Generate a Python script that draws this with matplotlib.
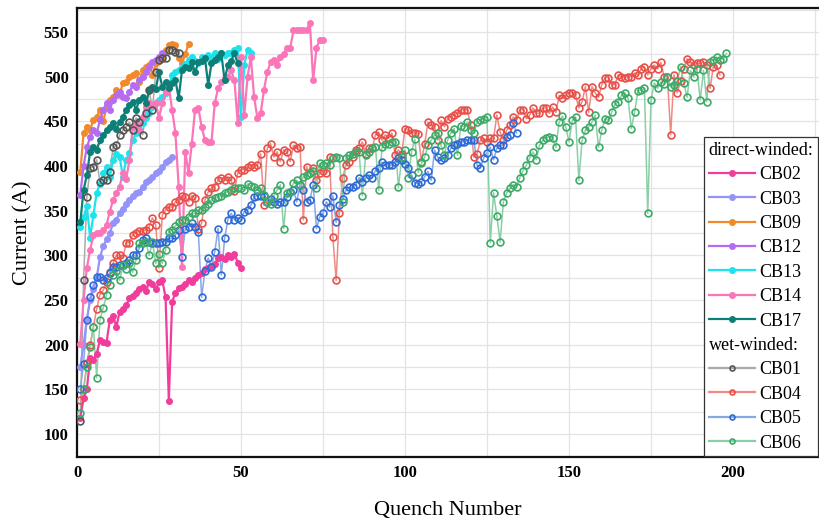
import numpy as np
import matplotlib
matplotlib.use("Agg")
import matplotlib.pyplot as plt
from matplotlib.lines import Line2D
from matplotlib.ticker import MultipleLocator

plt.rcParams['font.family'] = ['Liberation Serif', 'DejaVu Serif']

# ---- data: current (A) per quench, quench number = 1..N ----
cb02 = [118, 140, 150, 185, 183, 190, 205, 203, 202, 228, 232, 220, 237, 240, 244, 252, 255,
        258, 262, 265, 260, 270, 268, 262, 270, 272, 253, 137, 248, 258, 263, 265, 268, 272,
        270, 275, 278, 280, 285, 286, 288, 290, 297, 298, 296, 300, 298, 302, 292, 286]
cb03 = [175, 200, 228, 250, 262, 275, 298, 310, 318, 325, 336, 340, 347, 352, 358, 362, 366,
        370, 371, 376, 382, 384, 388, 392, 395, 399, 404, 407, 410]
cb09 = [393, 437, 444, 440, 452, 455, 463, 450, 466, 474, 477, 485, 480, 493, 494, 500, 502,
        504, 494, 508, 511, 513, 502, 515, 518, 520, 530, 535, 537, 536, 521, 515, 525, 537]
cb12 = [368, 400, 421, 432, 440, 437, 451, 463, 471, 463, 474, 480, 483, 477, 476, 483, 491,
        488, 496, 500, 505, 511, 516, 519, 522, 527]
cb13 = [332, 343, 355, 320, 345, 370, 380, 392, 399, 388, 407, 414, 410, 388, 407, 415, 429,
        437, 442, 448, 454, 459, 466, 470, 474, 477, 482, 489, 502, 505, 507, 511, 514, 519,
        522, 518, 515, 522, 520, 524, 522, 526, 520, 526, 524, 526, 526, 530, 532, 455, 513,
        530, 526]
cb14 = [201, 250, 286, 306, 323, 325, 325, 328, 334, 349, 362, 370, 377, 392, 385, 407, 444,
        446, 440, 455, 466, 470, 468, 470, 454, 470, 483, 489, 463, 437, 377, 287, 416, 392,
        425, 463, 465, 444, 429, 427, 427, 470, 487, 494, 498, 500, 507, 496, 448, 522, 457,
        500, 522, 477, 454, 459, 485, 505, 516, 519, 513, 522, 525, 532, 532, 552, 552, 552,
        552, 552, 560, 496, 532, 541, 541]
cb17 = [337, 373, 390, 416, 421, 418, 429, 435, 440, 444, 448, 442, 449, 455, 463, 468, 472,
        463, 474, 477, 470, 485, 489, 486, 505, 489, 494, 487, 493, 496, 476, 507, 511, 510,
        516, 505, 516, 518, 521, 491, 515, 519, 522, 526, 496, 513, 518, 526, 515]
cb01 = [115, 272, 365, 398, 399, 407, 382, 384, 384, 393, 421, 423, 435, 440, 444, 449, 440,
        454, 449, 435, 459, 485, 463, 505, 519, 521, 521, 530, 530, 528, 526]
cb04 = [138, 150, 179, 200, 220, 240, 256, 261, 270, 281, 291, 300, 300, 297, 314, 314, 323,
        325, 327, 327, 328, 332, 342, 334, 286, 345, 351, 354, 354, 360, 362, 367, 365, 360,
        367, 364, 330, 336, 362, 371, 375, 377, 384, 387, 384, 388, 384, 372, 392, 396, 396,
        399, 401, 399, 401, 414, 356, 420, 425, 410, 416, 405, 418, 416, 405, 423, 420, 421,
        340, 399, 392, 398, 384, 392, 395, 392, 410, 321, 272, 347, 387, 401, 404, 410, 418,
        420, 427, 414, 420, 420, 435, 438, 429, 435, 431, 437, 412, 418, 414, 442, 440, 437,
        437, 436, 405, 425, 449, 446, 444, 429, 451, 444, 453, 455, 457, 459, 463, 463, 463,
        446, 410, 414, 429, 431, 427, 431, 431, 457, 438, 429, 440, 446, 455, 451, 463, 463,
        453, 457, 465, 459, 459, 465, 465, 459, 466, 460, 479, 476, 479, 482, 482, 479, 465,
        472, 489, 460, 489, 482, 477, 491, 499, 499, 491, 491, 502, 500, 499, 500, 500, 504,
        502, 509, 511, 502, 509, 513, 509, 516, 500, 500, 435, 502, 482, 495, 509, 520, 516,
        513, 515, 515, 516, 513, 487, 511, 513, 502]
cb05 = [150, 178, 228, 253, 267, 276, 276, 272, 275, 280, 287, 287, 289, 289, 291, 295, 300,
        300, 308, 317, 319, 315, 314, 314, 314, 315, 315, 319, 319, 323, 328, 298, 330, 332,
        336, 332, 326, 253, 283, 297, 287, 304, 330, 278, 319, 340, 347, 340, 342, 340, 349,
        351, 356, 365, 367, 367, 367, 360, 363, 360, 358, 360, 360, 365, 371, 373, 360, 379,
        373, 360, 362, 379, 330, 343, 347, 360, 354, 367, 337, 356, 363, 373, 376, 376, 379,
        387, 382, 387, 390, 387, 395, 398, 404, 401, 401, 401, 405, 409, 407, 402, 398, 390,
        381, 380, 382, 388, 394, 384, 418, 410, 407, 409, 412, 420, 423, 425, 427, 427, 429,
        429, 429, 401, 398, 409, 415, 421, 407, 420, 423, 423, 433, 435, 448, 437]
cb06 = [123, 150, 175, 197, 220, 163, 228, 241, 256, 267, 278, 283, 272, 289, 285, 292, 281,
        295, 314, 314, 315, 300, 315, 291, 302, 291, 306, 326, 328, 333, 337, 340, 340, 343,
        347, 347, 351, 351, 354, 358, 362, 364, 365, 367, 370, 371, 373, 375, 375, 375, 373,
        380, 378, 376, 373, 375, 368, 360, 358, 367, 373, 379, 330, 370, 371, 381, 384, 379,
        388, 390, 392, 395, 375, 403, 401, 403, 401, 409, 410, 409, 360, 409, 412, 414, 416,
        416, 367, 412, 416, 420, 421, 373, 421, 425, 425, 427, 427, 376, 410, 418, 387, 416,
        430, 393, 403, 410, 423, 429, 435, 437, 423, 412, 429, 437, 442, 412, 445, 444, 449,
        440, 437, 449, 451, 453, 455, 314, 370, 344, 315, 360, 370, 375, 379, 377, 387, 395,
        401, 409, 416, 407, 423, 429, 431, 433, 431, 421, 449, 456, 444, 427, 451, 455, 384,
        429, 440, 444, 449, 457, 421, 440, 453, 451, 460, 469, 472, 479, 482, 476, 442, 460,
        484, 485, 487, 347, 474, 493, 487, 494, 492, 500, 489, 491, 495, 511, 493, 477, 507,
        500, 509, 474, 507, 472, 516, 519, 522, 519, 520, 526]

direct_names = ["CB02", "CB03", "CB09", "CB12", "CB13", "CB14", "CB17"]
direct_data = [cb02, cb03, cb09, cb12, cb13, cb14, cb17]
direct_colors = ["#F23C9C", "#9393FA", "#F08A2C", "#B56CF2", "#1DE3EC", "#FB76B8", "#0C7F76"]

wet_names = ["CB01", "CB04", "CB05", "CB06"]
wet_data = [cb01, cb04, cb05, cb06]
wet_marker_colors = ["#555555", "#E8504A", "#2F6BD5", "#3DAA68"]
wet_line_colors = ["#AAAAAA", "#EE8A86", "#86A8E6", "#8ACFA6"]

fig = plt.figure(figsize=(8.19, 5.2), dpi=100)
ax = fig.add_axes([77 / 819, 63 / 520, 742 / 819, 449 / 520])

handles = [Line2D([], [], linestyle='none')]
labels = ["direct-winded:"]
for name, vals, col in zip(direct_names, direct_data, direct_colors):
    x = np.arange(1, len(vals) + 1)
    h, = ax.plot(x, vals, '-', color=col, lw=1.6, marker='o', ms=4.0,
                 mfc=col, mec=col, zorder=3)
    handles.append(h)
    labels.append(name)

handles.append(Line2D([], [], linestyle='none'))
labels.append("wet-winded:")
for name, vals, mc, lc in zip(wet_names, wet_data, wet_marker_colors, wet_line_colors):
    x = np.arange(1, len(vals) + 1)
    ax.plot(x, vals, '-', color=lc, lw=1.1, zorder=2)
    ax.plot(x, vals, 'none', marker='o', ms=4.9, mfc='none', mec=mc, mew=1.2, zorder=4)
    h = Line2D([], [], color=lc, lw=1.6, marker='o', ms=3.6, mfc='none', mec=mc, mew=1.2)
    handles.append(h)
    labels.append(name)

ax.set_xlim(0, 742 / 3.28)
ax.set_ylim(74.3, 576.9)
ax.xaxis.set_major_locator(MultipleLocator(50))
ax.xaxis.set_minor_locator(MultipleLocator(25))
ax.yaxis.set_major_locator(MultipleLocator(50))
ax.yaxis.set_minor_locator(MultipleLocator(25))
ax.set_yticks(np.arange(100, 551, 50))
ax.grid(True, which='both', color='#E3E3E3', lw=0.9, zorder=0)
ax.set_axisbelow(True)
ax.tick_params(which='both', length=0, pad=6)
for lab in ax.get_xticklabels() + ax.get_yticklabels():
    lab.set_fontweight('bold')
    lab.set_fontsize(12)
for s in ['left', 'bottom', 'top']:
    ax.spines[s].set_linewidth(1.6)
    ax.spines[s].set_color('#111111')
ax.spines['right'].set_visible(False)

ax.set_xlabel("Quench Number", fontsize=16, labelpad=14)
ax.set_ylabel("Current (A)", fontsize=16, labelpad=8)

leg = ax.legend(handles, labels, loc='lower left', bbox_to_anchor=((704 - 77) / 742, 0.002),
                borderaxespad=0.0, fontsize=13, handlelength=2.6, handletextpad=0.2,
                labelspacing=0.41, borderpad=0.25, frameon=True, fancybox=False,
                framealpha=1, edgecolor='#333333')
leg.get_frame().set_linewidth(0.9)
leg.set_zorder(10)
# header rows: no handle space, text aligned with handle start
for col in leg._legend_handle_box.get_children():
    for row in col.get_children():
        kids = row.get_children()
        if len(kids) == 2 and kids[1].get_text() in ("direct-winded:", "wet-winded:"):
            kids[0].width = -0.2 * 13

fig.savefig("out.png", dpi=100)
